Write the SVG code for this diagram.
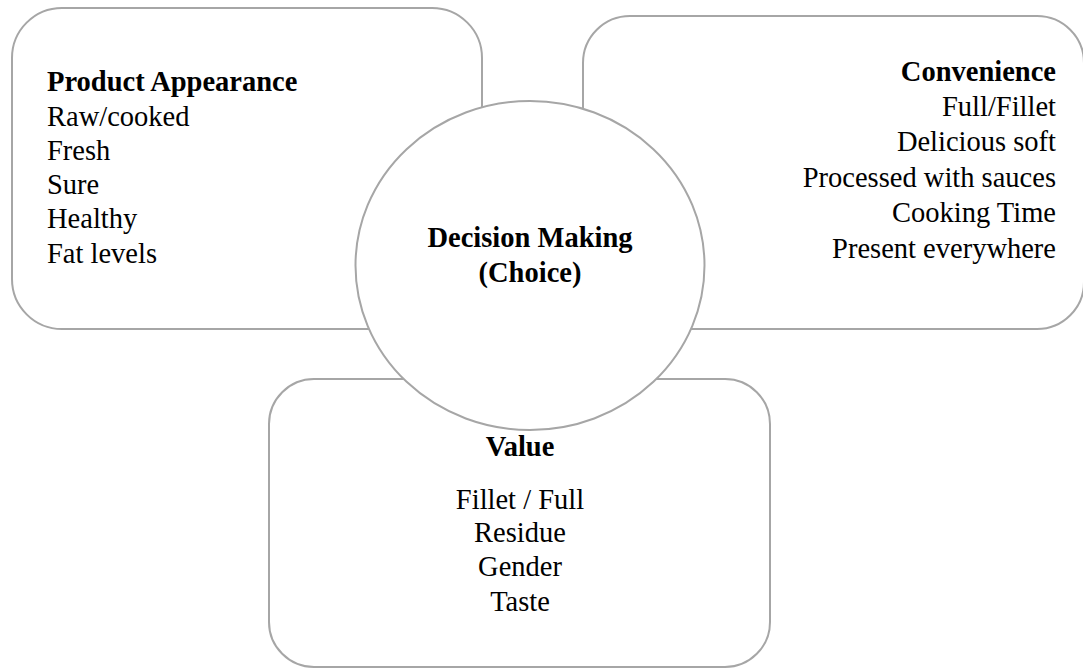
<svg xmlns="http://www.w3.org/2000/svg" width="1083" height="669" viewBox="0 0 1083 669">
<style>
.box{fill:#ffffff;stroke:#a6a6a6;stroke-width:2}
.t{font-family:"Liberation Serif","Times New Roman",serif;font-size:28.5px;fill:#000000}
.b{font-weight:bold}
</style>
<rect width="1083" height="669" fill="#ffffff"/>
<g id="connectors"></g>
<g id="product-appearance">
<rect class="box" x="12" y="8" width="470" height="321" rx="50" ry="50"/>
<text class="t b" x="47" y="91">Product Appearance</text>
<text class="t" x="47" y="125.5">Raw/cooked</text>
<text class="t" x="47" y="159.5">Fresh</text>
<text class="t" x="47" y="193.5">Sure</text>
<text class="t" x="47" y="228">Healthy</text>
<text class="t" x="47" y="262.5">Fat levels</text>
</g>
<g id="convenience">
<rect class="box" x="583" y="16" width="501" height="313" rx="47" ry="47"/>
<g text-anchor="end">
<text class="t b" x="1056" y="81">Convenience</text>
<text class="t" x="1056" y="116">Full/Fillet</text>
<text class="t" x="1056" y="151">Delicious soft</text>
<text class="t" x="1056" y="187">Processed with sauces</text>
<text class="t" x="1056" y="222">Cooking Time</text>
<text class="t" x="1056" y="258">Present everywhere</text>
</g>
</g>
<g id="value">
<rect class="box" x="269" y="379" width="501" height="288" rx="45" ry="45"/>
<g text-anchor="middle">
<text class="t b" x="520" y="456">Value</text>
<text class="t" x="520" y="508.5">Fillet / Full</text>
<text class="t" x="520" y="542">Residue</text>
<text class="t" x="520" y="576">Gender</text>
<text class="t" x="520" y="610.5">Taste</text>
</g>
</g>
<g id="decision-making">
<ellipse class="box" cx="530" cy="265.5" rx="174.5" ry="164.5"/>
<g text-anchor="middle">
<text class="t b" x="530" y="247">Decision Making</text>
<text class="t b" x="530" y="282">(Choice)</text>
</g>
</g>
</svg>
